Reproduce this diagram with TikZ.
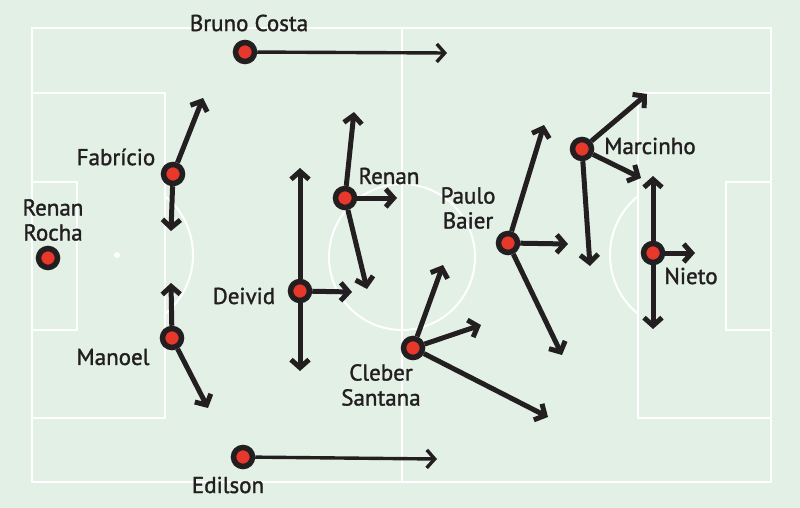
\documentclass[tikz,border=0pt]{standalone}
\usepackage{fontspec}
\setmainfont{PT Sans}
\newfontfamily\namefont[FakeBold=1.4]{PT Sans}
\usepackage{tikz}
\usetikzlibrary{arrows.meta}
\definecolor{pitchBg}{HTML}{E3F0E6}
\definecolor{pitchInk}{HTML}{231F20}
\definecolor{pitchRed}{HTML}{E8382B}
\tikzset{
  player/.style ={circle, draw=pitchInk, fill=pitchRed, line width=5.5pt, minimum size=19pt, inner sep=0pt},
  lbl/.style    ={text=pitchInk, font=\namefont\fontsize{23}{25}\selectfont, align=center, inner sep=0pt},
  run/.style    ={-{Straight Barb[length=8pt,width=18pt]}, line width=5pt, pitchInk},
  longrun/.style={run, line width=3.4pt},
  chalk/.style  ={white, line width=2pt},
}

\begin{document}
\begin{tikzpicture}[x=1pt,y=-1pt]
\useasboundingbox[fill=pitchBg] (0,0) rectangle (800,508);

% ---- pitch ----
\draw[chalk] (32,28) rectangle (771,482);
\draw[chalk] (402,28) -- (402,482);
\draw[chalk] (402,257) circle[radius=73];
\draw[chalk] (32,93) rectangle (165,418);
\draw[chalk] (32,182) rectangle (77,330);
\draw[chalk] (638,93) rectangle (771,418);
\draw[chalk] (726,182) rectangle (771,330);
\fill[white] (117,255) circle[radius=3];
\begin{scope}
  \clip (165,0) rectangle (402,508);
  \draw[chalk] (117,255) circle[radius=76];
\end{scope}
\begin{scope}
  \clip (402,0) rectangle (638,508);
  \draw[chalk] (686,255) circle[radius=76];
\end{scope}

% ---- arrow ends ----
\coordinate (brunoA)  at (447,53);
\coordinate (fabA)    at (203,98);
\coordinate (fabB)    at (171,231);
\coordinate (manA)    at (171,283);
\coordinate (manB)    at (208,408);
\coordinate (deiA)    at (300,168);
\coordinate (deiB)    at (300,371);
\coordinate (deiC)    at (352,292);
\coordinate (renA)    at (354,112);
\coordinate (renB)    at (397,198);
\coordinate (renC)    at (367,289);
\coordinate (clebA)   at (443,265);
\coordinate (clebB)   at (481,325);
\coordinate (clebC)   at (548,417);
\coordinate (pauA)    at (544,125);
\coordinate (pauB)    at (568,244);
\coordinate (pauC)    at (562,355);
\coordinate (marA)    at (647,94);
\coordinate (marB)    at (641,178);
\coordinate (marC)    at (590,266);
\coordinate (nieA)    at (653,176);
\coordinate (nieB)    at (695,253);
\coordinate (nieC)    at (653,329);
\coordinate (ediA)    at (437,459);

% ---- players ----
\node[player] (rocha)  at (48,258)  {};
\node[player] (bruno)  at (245,52)  {};
\node[player] (fab)    at (173,174) {};
\node[player] (man)    at (172,338) {};
\node[player] (edi)    at (243,457) {};
\node[player] (dei)    at (300,291) {};
\node[player] (ren)    at (345,198) {};
\node[player] (cleb)   at (413,348) {};
\node[player] (pau)    at (508,243) {};
\node[player] (mar)    at (582,149) {};
\node[player] (nie)    at (653,253) {};

\draw[longrun] (bruno)--(brunoA);
\draw[longrun] (edi)--(ediA);
\draw[run] (fab)--(fabA);
\draw[run] (fab)--(fabB);
\draw[run] (man)--(manA);
\draw[run] (man)--(manB);
\draw[run] (dei)--(deiA);
\draw[run] (dei)--(deiB);
\draw[run] (dei)--(deiC);
\draw[run] (ren)--(renA);
\draw[run] (ren)--(renB);
\draw[run] (ren)--(renC);
\draw[run] (cleb)--(clebA);
\draw[run] (cleb)--(clebB);
\draw[run] (cleb)--(clebC);
\draw[run] (pau)--(pauA);
\draw[run] (pau)--(pauB);
\draw[run] (pau)--(pauC);
\draw[run] (mar)--(marA);
\draw[run] (mar)--(marB);
\draw[run] (mar)--(marC);
\draw[run] (nie)--(nieA);
\draw[run] (nie)--(nieB);
\draw[run] (nie)--(nieC);

% ---- names ----
\node[lbl] (tRocha) at (53,220)  {Renan\\Rocha};
\node[lbl] (tBruno) at (249,23)  {Bruno Costa};
\node[lbl] (tFab)   at (116,157) {Fabrício};
\node[lbl] (tMan)   at (113,357) {Manoel};
\node[lbl] (tEdi)   at (228,485) {Edilson};
\node[lbl] (tDei)   at (244,296) {Deivid};
\node[lbl] (tRen)   at (389,176) {Renan};
\node[lbl] (tCleb)  at (381,385) {Cleber\\Santana};
\node[lbl] (tPau)   at (468,208) {Paulo\\Baier};
\node[lbl] (tMar)   at (650,146) {Marcinho};
\node[lbl] (tNie)   at (691,276) {Nieto};
\end{tikzpicture}
\end{document}
